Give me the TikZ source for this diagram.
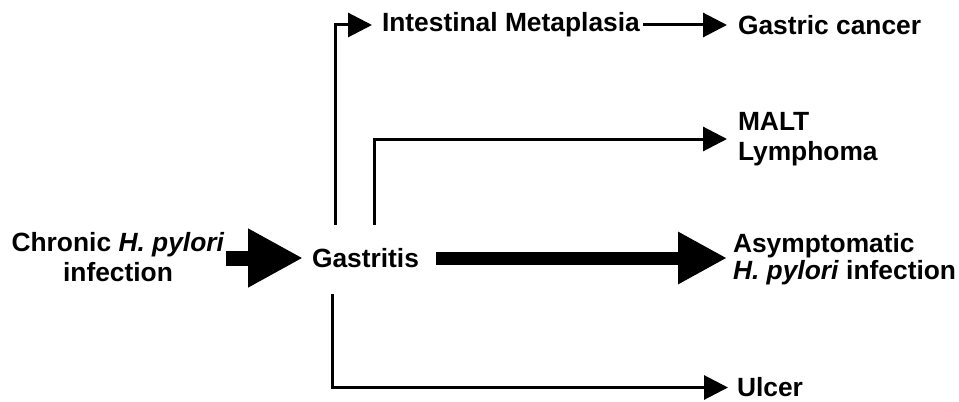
\documentclass[tikz,border=0pt]{standalone}
\usepackage{fontspec}
\setmainfont{Liberation Sans}
\usetikzlibrary{arrows.meta}

\begin{document}
\begin{tikzpicture}[scale=1.0,
  lbl/.style={inner sep=0pt,outer sep=0pt,anchor=west,align=left,font=\fontsize{15}{16}\selectfont\bfseries},
  thinarrow/.style={line width=0.06cm,-{Triangle[length=0.48cm,width=0.48cm]}},
  bigarrow/.style={-{Triangle[length=#1,width=#1]}}]
\useasboundingbox (0,0) rectangle (19.18,8.02);
\node[lbl,anchor=center,align=center,font=\fontsize{15}{17.5}\selectfont\bfseries] (chronic) at (2.36,2.88) {Chronic \textit{H. pylori}\\infection};
\node[lbl] (gastritis) at (6.24,2.86) {Gastritis};
\node[lbl,font=\fontsize{15}{15.5}\selectfont\bfseries] (asym) at (14.66,2.84) {Asymptomatic\\\textit{H. pylori} infection};
\node[lbl] (intestinal) at (7.64,7.52) {Intestinal Metaplasia};
\node[lbl] (gastric) at (14.76,7.52) {Gastric cancer};
\node[lbl,font=\fontsize{15}{17}\selectfont\bfseries] (malt) at (14.76,5.24) {MALT\\Lymphoma};
\node[lbl] (ulcer) at (14.74,0.27) {Ulcer};
\coordinate (up1) at (6.70,3.52); \coordinate (up2) at (7.48,3.52); \coordinate (down) at (6.64,2.14);
% thick arrows
\draw[bigarrow=1.1cm,line width=0.30cm,shorten <=0.04cm,shorten >=0.18cm] (chronic.east |- gastritis) -- (gastritis);
\draw[bigarrow=0.98cm,line width=0.26cm,shorten <=0.34cm,shorten >=0.12cm] (gastritis) -- (asym.west |- gastritis);
% branches
\draw[thinarrow,shorten >=0.2cm] (up1) |- (intestinal);
\draw[thinarrow,shorten <=0.06cm,shorten >=0.22cm] (intestinal) -- (gastric);
\draw[thinarrow,shorten >=0.22cm] (up2) |- (malt);
\draw[thinarrow,shorten >=0.18cm] (down) |- (ulcer);
\end{tikzpicture}
\end{document}
